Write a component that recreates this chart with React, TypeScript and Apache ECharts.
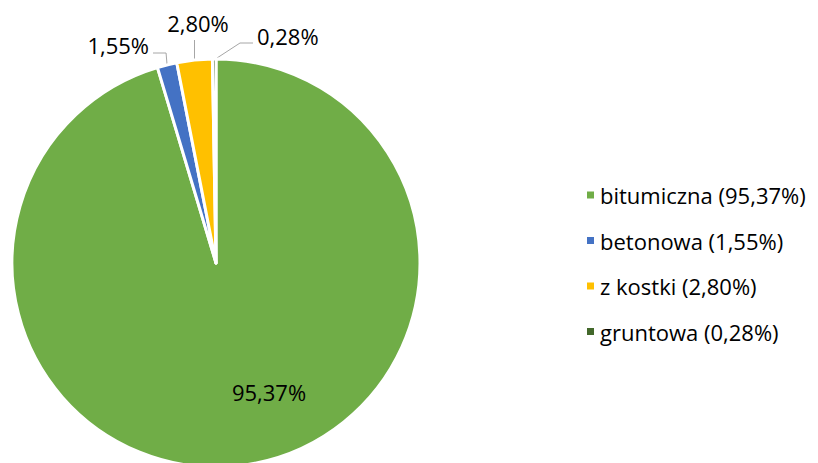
import React, { useEffect, useRef } from "react";
import * as echarts from "echarts";

const categories = ["bitumiczna", "betonowa", "z kostki", "gruntowa"];
const values = [95.37, 1.55, 2.8, 0.28];
const colors = ["#70AD47", "#4472C4", "#FFC000", "#43682B"];

const fmt = (v: number) => v.toFixed(2).replace(".", ",") + "%";

export default function App() {
  const ref = useRef<HTMLDivElement>(null);
  useEffect(() => {
    if (!ref.current) return;
    const chart = echarts.init(ref.current, undefined, { renderer: "svg" });
    const font = "'Open Sans', 'Noto Sans', sans-serif";
    chart.setOption({
      animation: false,
      backgroundColor: "#ffffff",
      legend: {
        orient: "vertical",
        left: 580,
        top: 177,
        itemWidth: 9,
        itemHeight: 9,
        itemGap: 19.5,
        icon: "rect",
        textStyle: { fontFamily: font, fontSize: 22, color: "#000", lineHeight: 26 },
        formatter: (name: string) => {
          const i = categories.indexOf(name);
          return `${name} (${fmt(values[i])})`;
        },
        data: categories,
      },
      series: [
        {
          type: "pie",
          center: [216, 263],
          radius: 204,
          startAngle: 90,
          clockwise: true,
          avoidLabelOverlap: false,
          itemStyle: { borderColor: "#ffffff", borderWidth: 3 },
          label: {
            show: true,
            position: "outside",
            formatter: (p: any) => fmt(p.value),
            fontFamily: font,
            fontSize: 22,
            color: "#000",
          },
          labelLine: {
            show: true,
            length: 10,
            length2: 10,
            lineStyle: { color: "#A6A6A6", width: 1 },
          },
          labelLayout: (p: any) => {
            const i = p.dataIndex;
            const s = p.labelLinePoints ? p.labelLinePoints[0] : [216, 59];
            if (i === 0) {
              return { x: 269, y: 392, align: "center", verticalAlign: "middle", labelLinePoints: [[269, 392], [269, 392], [269, 392]] };
            }
            if (i === 1) {
              return {
                x: 149, y: 45, align: "right", verticalAlign: "middle",
                labelLinePoints: [[s[0], s[1]], [s[0] - 1, 53], [153, 53]],
              };
            }
            if (i === 2) {
              return {
                x: 198, y: 23, align: "center", verticalAlign: "middle",
                labelLinePoints: [[s[0], s[1]], [s[0], 40], [s[0], 40]],
              };
            }
            return {
              x: 257, y: 36, align: "left", verticalAlign: "middle",
              labelLinePoints: [[217, 58], [240, 43], [253, 43]],
            };
          },
          data: categories.map((c, i) => ({
            name: c,
            value: values[i],
            itemStyle: { color: colors[i] },
            labelLine: { show: i !== 0 },
          })),
        },
      ],
    });
    return () => chart.dispose();
  }, []);
  return <div ref={ref} style={{ width: 818, height: 463, position: "absolute", left: 0, top: 0 }} />;
}
